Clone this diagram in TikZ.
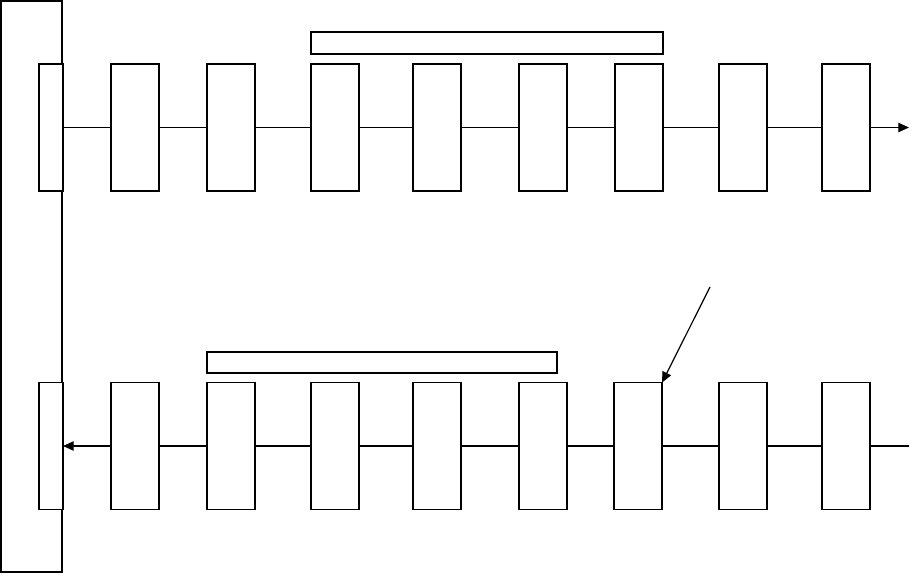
\documentclass[tikz,border=0pt]{standalone}
\usetikzlibrary{arrows.meta}
\begin{document}
\begin{tikzpicture}[x=0.75pt,y=-0.75pt,
  box/.style={draw,line width=1.1pt,minimum width=36pt,minimum height=95pt,inner sep=0pt,outer sep=0pt},
  endbox/.style={draw,line width=1.1pt,minimum width=18pt,minimum height=95pt,inner sep=0pt,outer sep=0pt,fill=white},
  bar/.style={draw,line width=1.3pt,inner sep=0pt,outer sep=0pt},
  frame/.style={draw,line width=1.5pt,inner sep=0pt,outer sep=0pt,minimum width=45.75pt,minimum height=428.25pt},
  conn/.style={line width=0.9pt},
  tip/.style={-{Triangle[length=8pt,width=7pt]}}]
\useasboundingbox (0,0) rectangle (911,575);
% big frame
\node[frame] (F) at (31.5,286.5) {};
% end boxes on frame
\node[endbox] (L1) at (51,127.5) {};
\node[endbox] (L2) at (51,446) {};
% top row
\foreach \i/\x in {1/135,2/231,3/335,4/437,5/543,6/639,7/743,8/846}{
  \node[box] (t\i) at (\x,127.5) {};
}
% bottom row
\foreach \i/\x in {1/135,2/231,3/335,4/437,5/543,6/638,7/743,8/846}{
  \node[box] (b\i) at (\x,446) {};
}
% bars
\node[bar,minimum width=264pt,minimum height=16.5pt] (T) at (487,43) {};
\node[bar,minimum width=262.5pt,minimum height=15.75pt] (B) at (382,362.5) {};
% coordinates
\coordinate (tout) at (909,127.5);
\coordinate (bin) at (909,446);
\coordinate (dstart) at (710,287);
% top connectors
\draw[conn] (L1.east) -- (t1.west);
\foreach \a/\b in {1/2,2/3,3/4,4/5,5/6,6/7,7/8}{
  \draw[conn] (t\a.east) -- (t\b.west);
}
\draw[conn,tip] (t8.east) -- (tout);
% bottom connectors
\draw[conn] (bin) -- (b8.east);
\foreach \a/\b in {8/7,7/6,6/5,5/4,4/3,3/2,2/1}{
  \draw[conn] (b\a.west) -- (b\b.east);
}
\draw[conn,tip] (b1.west) -- (L2.east);
% diagonal arrow
\draw[conn,tip] (dstart) -- (b6.north east);
\end{tikzpicture}
\end{document}
